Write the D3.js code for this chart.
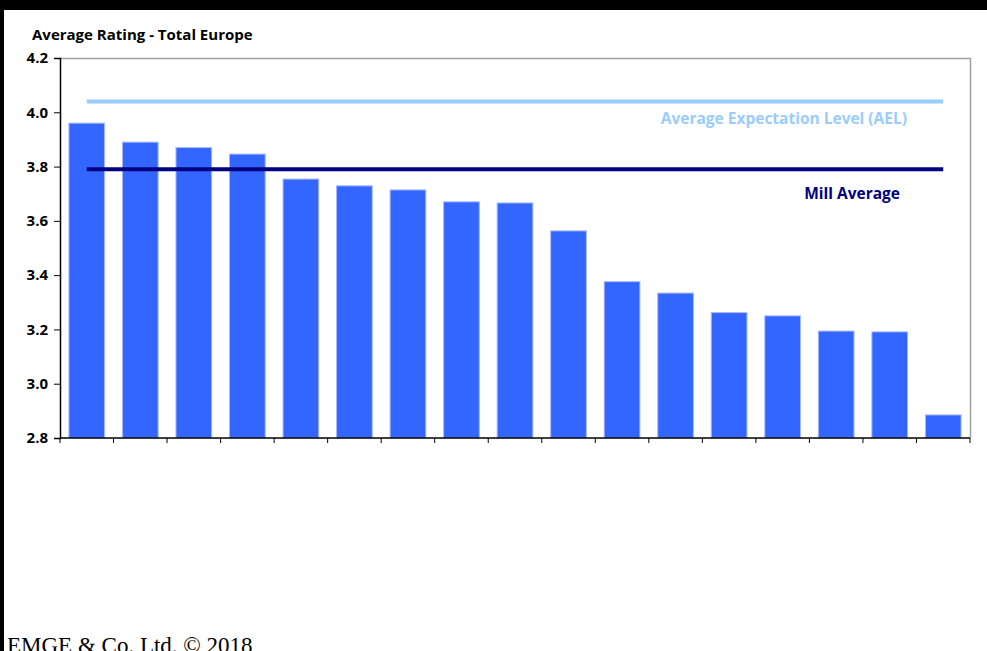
<!DOCTYPE html>
<html>
<head>
<meta charset="utf-8">
<script src="https://cdn.jsdelivr.net/npm/d3@7"></script>
<style>
  body { margin: 0; background: #fff; }
  svg { display: block; }
</style>
</head>
<body>
<svg id="chart"></svg>
<script>
// data
var categories = ["1","2","3","4","5","6","7","8","9","10","11","12","13","14","15","16","17"];
var ratings = [3.96, 3.89, 3.87, 3.846, 3.754, 3.729, 3.714, 3.67, 3.666, 3.563, 3.376, 3.334, 3.262, 3.25, 3.194, 3.191, 2.885];
var yTicks = [2.8, 3.0, 3.2, 3.4, 3.6, 3.8, 4.0, 4.2];
var aelValue = 4.04;
var millValue = 3.79;

var width = 987;
var height = 651;
var labelFont = "'Open Sans', Lato, sans-serif";

var svg = d3.select("#chart")
            .attr("width", width)
            .attr("height", height);

// black frame strips
svg.append("rect").attr("x", 0).attr("y", 0).attr("width", width).attr("height", 10).attr("fill", "#000");
svg.append("rect").attr("x", 0).attr("y", 0).attr("width", 4).attr("height", height).attr("fill", "#000");

var plotLeft = 60, plotRight = 970, plotTop = 58, plotBottom = 438;

var xScale = d3.scaleBand()
               .domain(categories)
               .range([plotLeft, plotRight])
               .paddingInner(0.333)
               .paddingOuter(0.1665);

var yScale = d3.scaleLinear()
               .domain([2.8, 4.2])
               .range([plotBottom, plotTop]);

// plot border (top and right in grey)
svg.append("path")
   .attr("d", "M" + plotLeft + "," + (plotTop + 0.5) + "H" + (plotRight + 0.5) + "V" + plotBottom)
   .attr("fill", "none")
   .attr("stroke", "#a0a0a0")
   .attr("stroke-width", 1.5);

svg.selectAll("rect.bar")
  .data(ratings)
  .enter()
  .append("rect")
  .attr("class", "bar")
  .attr("x", function(d, i) { return xScale(categories[i]); })
  .attr("y", function(d) { return yScale(d); })
  .attr("width", xScale.bandwidth())
  .attr("height", function(d) { return plotBottom - yScale(d); })
  .attr("fill", "#3366ff")
  .attr("stroke", "#a9b9ff")
  .attr("stroke-width", 1);

// reference lines, from first bar centre to last bar centre
var x0 = xScale(categories[0]) + xScale.bandwidth() / 2;
var x1 = xScale(categories[categories.length - 1]) + xScale.bandwidth() / 2;

svg.append("line")
   .attr("x1", x0).attr("x2", x1)
   .attr("y1", yScale(aelValue)).attr("y2", yScale(aelValue))
   .attr("stroke", "#99ccff")
   .attr("stroke-width", 4);

svg.append("line")
   .attr("x1", x0).attr("x2", x1)
   .attr("y1", yScale(millValue)).attr("y2", yScale(millValue))
   .attr("stroke", "#000080")
   .attr("stroke-width", 4);

// y axis
var yAxis = d3.axisLeft(yScale)
              .tickValues(yTicks)
              .tickFormat(d3.format(".1f"))
              .tickSize(6)
              .tickPadding(6);

var gy = svg.append("g")
            .attr("transform", "translate(" + plotLeft + ",0)")
            .call(yAxis);
gy.select(".domain").attr("stroke", "#000").attr("stroke-width", 1.5);
gy.selectAll(".tick line").attr("stroke", "#000");
gy.selectAll(".tick text")
  .attr("fill", "#000")
  .style("font-family", labelFont)
  .style("font-weight", "bold")
  .style("font-size", "15px");

// x axis line with ticks at band boundaries
var xBounds = categories.map(function(c, i) { return plotLeft + i * (plotRight - plotLeft) / categories.length; });
xBounds.push(plotRight);

svg.append("line")
   .attr("x1", plotLeft).attr("x2", plotRight)
   .attr("y1", plotBottom).attr("y2", plotBottom)
   .attr("stroke", "#000")
   .attr("stroke-width", 1.5);

svg.selectAll("line.xtick")
  .data(xBounds)
  .enter()
  .append("line")
  .attr("class", "xtick")
  .attr("x1", function(d) { return d; })
  .attr("x2", function(d) { return d; })
  .attr("y1", plotBottom)
  .attr("y2", plotBottom + 5)
  .attr("stroke", "#000");

// titles and labels
svg.append("text")
   .attr("x", 32).attr("y", 40)
   .text("Average Rating - Total Europe")
   .style("font-family", labelFont)
   .style("font-weight", "bold")
   .style("font-size", "15px");

svg.append("text")
   .attr("x", 907).attr("y", 124)
   .attr("text-anchor", "end")
   .attr("fill", "#99ccff")
   .text("Average Expectation Level (AEL)")
   .style("font-family", labelFont)
   .style("font-weight", "bold")
   .style("font-size", "15.5px");

svg.append("text")
   .attr("x", 900).attr("y", 199)
   .attr("text-anchor", "end")
   .attr("fill", "#000080")
   .text("Mill Average")
   .style("font-family", labelFont)
   .style("font-weight", "bold")
   .style("font-size", "15.5px");

svg.append("text")
   .attr("x", 7).attr("y", 653)
   .text("EMGE & Co. Ltd. © 2018")
   .style("font-family", "'Liberation Serif', 'DejaVu Serif', serif")
   .style("font-size", "23px");
</script>
</body>
</html>
